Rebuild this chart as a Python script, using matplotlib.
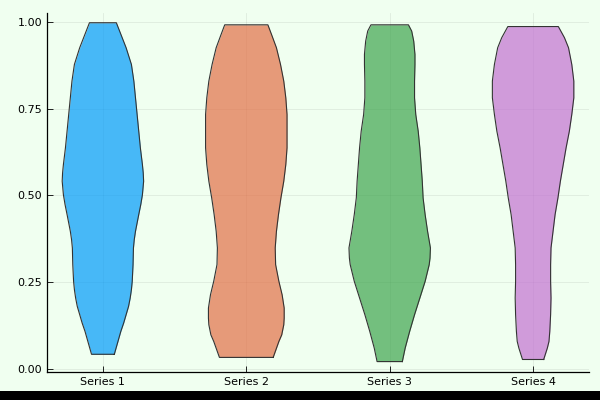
import numpy as np
import matplotlib.pyplot as plt
from matplotlib.patches import Rectangle

# Violin outlines: value levels and relative density (1 = widest)
labels = ['Series 1', 'Series 2', 'Series 3', 'Series 4']
colors = ['#009AFA', '#E36F47', '#3EA44E', '#C371D2']

levels_1 = [0.043, 0.076, 0.109, 0.133, 0.157, 0.181, 0.205, 0.229, 0.253, 0.301, 0.349, 0.373,
            0.397, 0.421, 0.445, 0.474, 0.502, 0.541, 0.565, 0.589, 0.637, 0.685, 0.733, 0.781,
            0.829, 0.877, 0.925, 0.973, 0.997]
dens_1 = [0.28, 0.36, 0.44, 0.51, 0.57, 0.63, 0.67, 0.70, 0.72, 0.74, 0.75, 0.77,
          0.80, 0.84, 0.88, 0.93, 0.97, 1.00, 0.99, 0.97, 0.92, 0.88, 0.84, 0.80,
          0.76, 0.70, 0.57, 0.41, 0.33]

levels_2 = [0.034, 0.080, 0.099, 0.128, 0.147, 0.176, 0.214, 0.253, 0.301, 0.349, 0.397, 0.445,
            0.493, 0.541, 0.589, 0.637, 0.685, 0.733, 0.781, 0.829, 0.877, 0.925, 0.963, 0.991]
dens_2 = [0.66, 0.80, 0.87, 0.92, 0.93, 0.93, 0.88, 0.80, 0.72, 0.71, 0.74, 0.79,
          0.85, 0.92, 0.97, 1.00, 1.00, 1.00, 0.97, 0.92, 0.84, 0.74, 0.62, 0.53]

levels_3 = [0.022, 0.061, 0.109, 0.157, 0.205, 0.253, 0.301, 0.320, 0.349, 0.397, 0.445, 0.493,
            0.541, 0.589, 0.637, 0.685, 0.733, 0.781, 0.829, 0.877, 0.906, 0.944, 0.973, 0.991]
dens_3 = [0.31, 0.38, 0.49, 0.61, 0.74, 0.87, 0.97, 0.99, 1.00, 0.93, 0.87, 0.82,
          0.80, 0.77, 0.74, 0.70, 0.64, 0.61, 0.61, 0.62, 0.62, 0.59, 0.54, 0.46]

levels_4 = [0.028, 0.061, 0.080, 0.109, 0.157, 0.205, 0.253, 0.301, 0.349, 0.397, 0.445, 0.493,
            0.541, 0.589, 0.637, 0.685, 0.733, 0.781, 0.829, 0.877, 0.925, 0.954, 0.986]
dens_4 = [0.26, 0.35, 0.39, 0.41, 0.43, 0.44, 0.43, 0.43, 0.44, 0.49, 0.54, 0.61,
          0.67, 0.74, 0.81, 0.89, 0.95, 1.00, 1.00, 0.95, 0.87, 0.77, 0.62]

levels = [levels_1, levels_2, levels_3, levels_4]
densities = [dens_1, dens_2, dens_3, dens_4]

bg = '#F0FFF0'
max_half = 0.284  # half-width of the widest part of each violin

fig = plt.figure(figsize=(6, 4), dpi=100, facecolor=bg)
ax = fig.add_axes([0.0783, 0.07, 0.9034, 0.8975])
ax.set_facecolor(bg)

for i, (lv, d, c) in enumerate(zip(levels, densities, colors)):
    pos = i + 1
    lv = np.array(lv)
    hw = np.array(d) * max_half
    ax.fill_betweenx(lv, pos - hw, pos + hw, color=c, alpha=0.7, linewidth=0, zorder=2)
    # outline: right side up, left side down, closed
    xs = np.concatenate([pos + hw, (pos - hw)[::-1], [pos + hw[0]]])
    ys = np.concatenate([lv, lv[::-1], [lv[0]]])
    ax.plot(xs, ys, color='#333333', linewidth=0.8, zorder=3, solid_joinstyle='round')

ax.set_xlim(0.61, 4.39)
ax.set_ylim(-0.008, 1.025)
ax.set_xticks([1, 2, 3, 4])
ax.set_xticklabels(labels)
ax.set_yticks([0, 0.25, 0.5, 0.75, 1.0])
ax.set_yticklabels(['0.00', '0.25', '0.50', '0.75', '1.00'])
ax.tick_params(direction='in', length=4, width=0.6, labelsize=8, colors='black')
ax.grid(True, color='black', alpha=0.08, linewidth=0.6)
ax.set_axisbelow(True)
for s in ['top', 'right']:
    ax.spines[s].set_visible(False)
for s in ['left', 'bottom']:
    ax.spines[s].set_linewidth(0.9)

# black strip along the bottom edge of the image
fig.patches.append(Rectangle((0, 0), 1, 0.0225, transform=fig.transFigure,
                             facecolor='black', edgecolor='none', zorder=10))

fig.savefig('out.png', dpi=100, facecolor=bg)
